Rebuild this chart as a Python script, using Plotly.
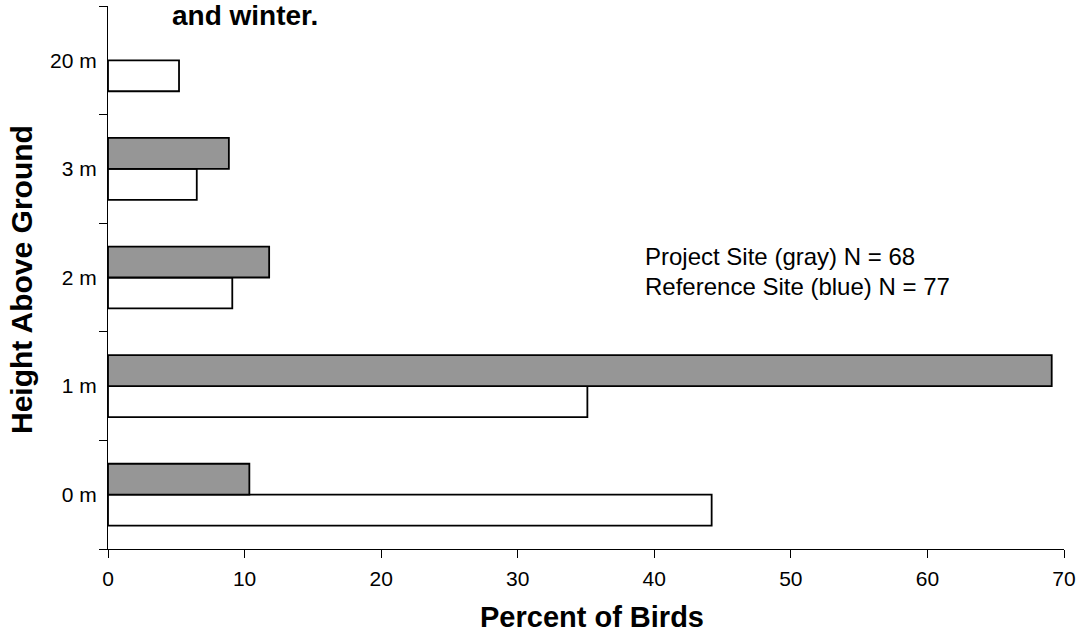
import plotly.graph_objects as go

categories = ["0 m", "1 m", "2 m", "3 m", "20 m"]
project_site = [10.35, 69.1, 11.8, 8.85, None]
reference_site = [44.2, 35.1, 9.1, 6.5, 5.2]
x_ticks = [0, 10, 20, 30, 40, 50, 60, 70]

FONT = "Liberation Sans, Arial, sans-serif"

fig = go.Figure()
fig.add_trace(go.Bar(
    y=categories, x=reference_site, orientation="h", name="Reference Site",
    marker=dict(color="white", line=dict(color="black", width=1.8)),
))
fig.add_trace(go.Bar(
    y=categories, x=project_site, orientation="h", name="Project Site",
    marker=dict(color="#969696", line=dict(color="black", width=1.8)),
))

fig.update_layout(
    width=1079, height=637,
    margin=dict(l=108, r=15, t=6, b=88),
    paper_bgcolor="white", plot_bgcolor="white",
    barmode="group", bargap=0.43, bargroupgap=0,
    showlegend=False,
    font=dict(family=FONT, color="black"),
    xaxis=dict(
        range=[0, 70], tickvals=x_ticks, ticks="outside", ticklen=8,
        tickcolor="black", showline=True, linecolor="black", linewidth=1,
        showgrid=False, zeroline=False, tickfont=dict(size=21, family=FONT),
        automargin=False, ticklabelstandoff=3,
    ),
    yaxis=dict(
        type="category", categoryorder="array", categoryarray=categories,
        range=[-0.5, 4.5], tickson="boundaries", ticks="outside", ticklen=8,
        tickcolor="black", showline=True, linecolor="black", linewidth=1,
        showgrid=False, zeroline=False, tickfont=dict(size=21, family=FONT),
        automargin=False, ticklabelstandoff=6,
    ),
    annotations=[
        dict(text="<b>and winter.</b>", xref="paper", yref="paper",
             x=(245 - 108) / 956, y=(549 - 16) / 543, xanchor="center", yanchor="middle",
             showarrow=False, font=dict(size=28, family=FONT)),
        dict(text="<b>Percent of Birds</b>", xref="paper", yref="paper",
             x=(592 - 108) / 956, y=(549 - 617) / 543, xanchor="center", yanchor="middle",
             showarrow=False, font=dict(size=29, family=FONT)),
        dict(text="<b>Height Above Ground</b>", xref="paper", yref="paper",
             x=(21 - 108) / 956, y=(549 - 280) / 543, xanchor="center", yanchor="middle",
             textangle=-90, showarrow=False, font=dict(size=30, family=FONT)),
        dict(text="Project Site (gray) N = 68", xref="paper", yref="paper",
             x=(643 - 108) / 956, y=(549 - 256) / 543, xanchor="left", yanchor="middle",
             showarrow=False, font=dict(size=24, family=FONT)),
        dict(text="Reference Site (blue) N = 77", xref="paper", yref="paper",
             x=(643 - 108) / 956, y=(549 - 286) / 543, xanchor="left", yanchor="middle",
             showarrow=False, font=dict(size=24, family=FONT)),
    ],
)

fig.write_html("out.html", config={"displayModeBar": False},
               post_script="document.body.style.margin='0';")
